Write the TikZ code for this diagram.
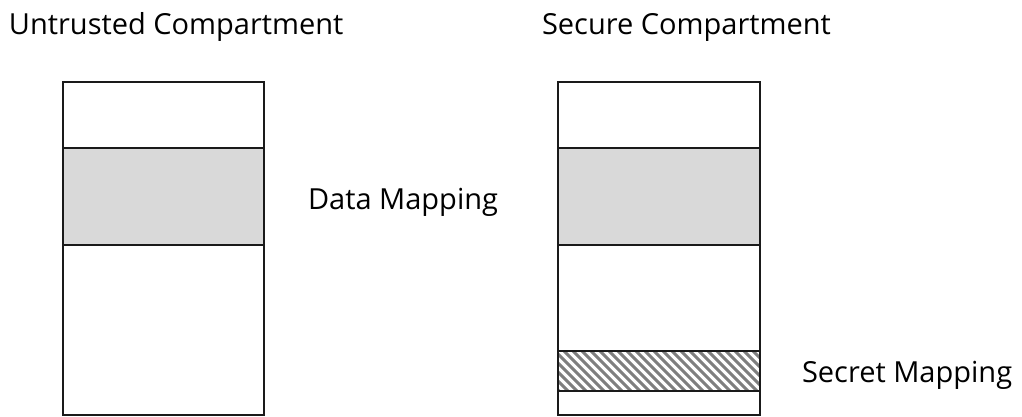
\documentclass[tikz,border=0pt]{standalone}
\usepackage{fontspec}
\setmainfont{Open Sans}
\usepackage{tikz}
\usepackage{xcolor}
\definecolor{CompEdge}{HTML}{1A1A1A}
\definecolor{CompGray}{HTML}{D9D9D9}
\definecolor{CompHatch}{HTML}{7F7F7F}

\begin{document}
\begin{tikzpicture}[x=1pt,y=1pt,line width=2pt,
    caption/.style={anchor=base west,inner sep=0pt,font=\fontsize{29}{34}\selectfont}]
  \useasboundingbox (0,0) rectangle (1022,416);
  \draw[CompEdge,fill=CompGray] (63,171) rectangle (264,268);
  \draw[CompEdge] (63,1) rectangle (264,334);
  \draw[CompEdge,fill=CompGray] (558,171) rectangle (760,268);
  \begin{scope}
    \clip (558,25) rectangle (760,65);
    \foreach \x in {510,519,...,770}
      \draw[CompHatch,line width=3pt] (\x,65) -- ++(40,-40);
  \end{scope}
  \draw[CompEdge] (558,25) rectangle (760,65);
  \draw[CompEdge] (558,1) rectangle (760,334);
  \node[caption] (untrusted) at (8,381) {Untrusted Compartment};
  \node[caption] (secure) at (541,381) {Secure Compartment};
  \node[caption] (datamap) at (307,207) {Data Mapping};
  \node[caption] (secretmap) at (801,34) {Secret Mapping};
\end{tikzpicture}
\end{document}
